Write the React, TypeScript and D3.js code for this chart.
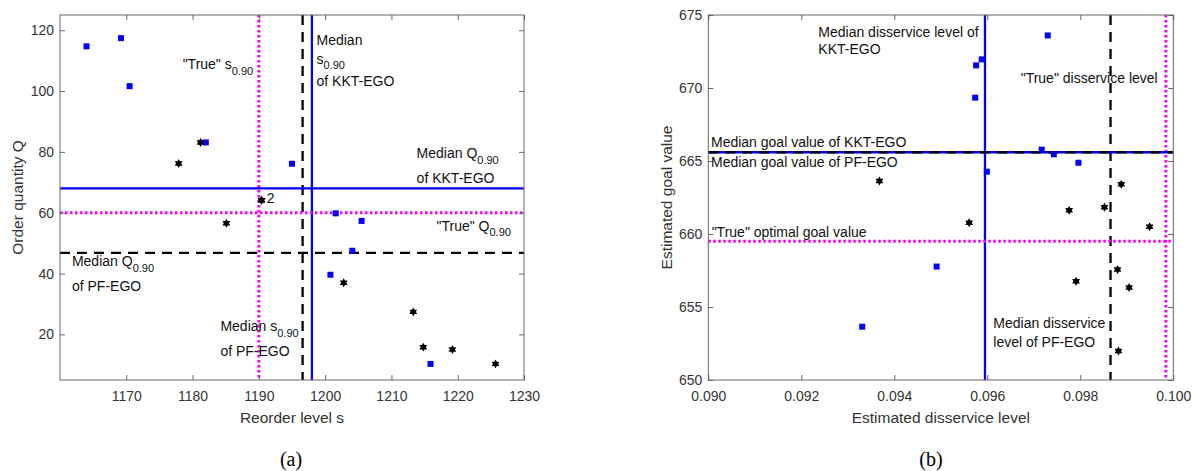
import React, { useEffect, useRef } from 'react';
import * as d3 from 'd3';

// (a) reorder level s vs order quantity Q, one point per replication
const KKT_S = [1164.0, 1169.2, 1170.5, 1182.0, 1195.0, 1201.6, 1205.5, 1204.1, 1200.8, 1215.9];
const KKT_Q = [114.7, 117.4, 101.6, 83.1, 76.1, 59.8, 57.3, 47.5, 39.6, 10.3];
const PF_S = [1177.9, 1181.2, 1190.4, 1190.4, 1185.1, 1202.8, 1213.3, 1214.8, 1219.2, 1225.7];
const PF_Q = [76.2, 83.1, 64.1, 64.1, 56.5, 37.0, 27.4, 15.8, 15.0, 10.3];
const S_TICKS = [1170, 1180, 1190, 1200, 1210, 1220, 1230];
const Q_TICKS = [20, 40, 60, 80, 100, 120];
const MEDIAN_S_KKT = 1198.0;
const MEDIAN_S_PF = 1196.6;
const TRUE_S = 1190;
const MEDIAN_Q_KKT = 68.0;
const MEDIAN_Q_PF = 46.8;
const TRUE_Q = 60;

// (b) estimated disservice level vs estimated goal value
const KKT_DIS = [0.0973, 0.09588, 0.09576, 0.09574, 0.09717, 0.09743, 0.09796, 0.09599, 0.09491, 0.09331];
const KKT_GOAL = [673.6, 671.96, 671.55, 669.34, 665.78, 665.46, 664.88, 664.27, 657.77, 653.65];
const PF_DIS = [0.09368, 0.09888, 0.09776, 0.09852, 0.09561, 0.09949, 0.0988, 0.09791, 0.09905, 0.09882];
const PF_GOAL = [663.63, 663.4, 661.62, 661.83, 660.77, 660.5, 657.57, 656.77, 656.34, 651.98];
const DIS_TICKS = [0.09, 0.092, 0.094, 0.096, 0.098, 0.1];
const GOAL_TICKS = [650, 655, 660, 665, 670, 675];
const MEDIAN_DIS_KKT = 0.09595;
const MEDIAN_DIS_PF = 0.09865;
const TRUE_DIS = 0.09984;
const MEDIAN_GOAL_KKT = 665.6;
const MEDIAN_GOAL_PF = 665.6;
const TRUE_GOAL = 659.5;

const FONT = 'Liberation Sans, Arial, Helvetica, sans-serif';

const LINE_STYLE = {
  kkt: { stroke: '#0000ff', width: 2.3, dash: null },
  pf: { stroke: '#000000', width: 2.3, dash: '10,7' },
  truth: { stroke: '#ff00ff', width: 3, dash: '2.5,2.5' }
};

// six pointed star, like matlab's 'h' marker
const hexagram = {
  draw (context, size) {
    const r = Math.sqrt(size / 2);
    const ri = r / Math.sqrt(3);
    for (let i = 0; i < 12; i++) {
      const a = i * Math.PI / 6 - Math.PI / 2;
      const rr = i % 2 ? ri : r;
      if (i === 0) context.moveTo(rr * Math.cos(a), rr * Math.sin(a));
      else context.lineTo(rr * Math.cos(a), rr * Math.sin(a));
    }
    context.closePath();
  }
};

const PANEL_A = {
  x0: 60, x1: 524, y0: 15, y1: 380,
  xDomain: [1160, 1230], yDomain: [5, 125],
  xTicks: S_TICKS, yTicks: Q_TICKS, xFormat: d3.format('d'),
  xLabel: 'Reorder level s', yLabel: 'Order quantity Q', yLabelX: 23,
  caption: '(a)', captionX: 291,
  kkt: [KKT_S, KKT_Q], pf: [PF_S, PF_Q],
  vLines: [
    { value: TRUE_S, kind: 'truth' },
    { value: MEDIAN_S_PF, kind: 'pf' },
    { value: MEDIAN_S_KKT, kind: 'kkt' }
  ],
  hLines: [
    { value: MEDIAN_Q_KKT, kind: 'kkt' },
    { value: TRUE_Q, kind: 'truth' },
    { value: MEDIAN_Q_PF, kind: 'pf' }
  ],
  labels: [
    { x: 1178.5, y: 107.2, text: '"True" s_{0.90}' },
    { x: 1198.7, y: 115.1, text: 'Median' },
    { x: 1198.7, y: 109.0, text: 's_{0.90}' },
    { x: 1198.7, y: 101.6, text: 'of KKT-EGO' },
    { x: 1213.8, y: 77.9, text: 'Median Q_{0.90}' },
    { x: 1213.8, y: 69.8, text: 'of KKT-EGO' },
    { x: 1216.8, y: 54.0, text: '"True" Q_{0.90}' },
    { x: 1161.8, y: 42.4, text: 'Median Q_{0.90}' },
    { x: 1161.8, y: 34.3, text: 'of PF-EGO' },
    { x: 1184.2, y: 21.1, text: 'Median s_{0.90}' },
    { x: 1184.2, y: 12.8, text: 'of PF-EGO' },
    { x: 1191.2, y: 63.1, text: '2' }
  ]
};

const PANEL_B = {
  x0: 708.3, x1: 1173.3, y0: 15, y1: 380,
  xDomain: [0.09, 0.1], yDomain: [650, 675],
  xTicks: DIS_TICKS, yTicks: GOAL_TICKS, xFormat: d3.format('.3f'),
  xLabel: 'Estimated disservice level', yLabel: 'Estimated goal value', yLabelX: 671.5,
  caption: '(b)', captionX: 931,
  kkt: [KKT_DIS, KKT_GOAL], pf: [PF_DIS, PF_GOAL],
  vLines: [
    { value: MEDIAN_DIS_KKT, kind: 'kkt' },
    { value: MEDIAN_DIS_PF, kind: 'pf' },
    { value: TRUE_DIS, kind: 'truth' }
  ],
  hLines: [
    { value: MEDIAN_GOAL_KKT, kind: 'kkt' },
    { value: MEDIAN_GOAL_PF, kind: 'pf' },
    { value: TRUE_GOAL, kind: 'truth' }
  ],
  labels: [
    { x: 0.092366, y: 673.51, text: 'Median disservice level of' },
    { x: 0.092366, y: 672.31, text: 'KKT-EGO' },
    { x: 0.096718, y: 670.36, text: '"True" disservice level' },
    { x: 0.090058, y: 665.94, text: 'Median goal value of KKT-EGO' },
    { x: 0.090058, y: 664.57, text: 'Median goal value of PF-EGO' },
    { x: 0.090072, y: 659.82, text: '"True" optimal goal value' },
    { x: 0.096129, y: 653.58, text: 'Median disservice' },
    { x: 0.096129, y: 652.28, text: 'level of PF-EGO' }
  ]
};

// text with simple _{sub} subscripts
function addLabel (g, px, py, str) {
  const t = g.append('text')
    .attr('x', px)
    .attr('y', py)
    .attr('font-size', 14)
    .attr('fill', '#111');
  let shifted = false;
  str.split(/(_\{[^}]*\})/).forEach(part => {
    if (!part) return;
    if (part.startsWith('_{')) {
      t.append('tspan').attr('dy', 5.5).attr('font-size', 11).text(part.slice(2, -1));
      shifted = true;
    } else {
      const s = t.append('tspan').text(part);
      if (shifted) { s.attr('dy', -5.5); shifted = false; }
    }
  });
}

function styleLine (sel, kind) {
  const st = LINE_STYLE[kind];
  sel.attr('stroke', st.stroke)
    .attr('stroke-width', st.width)
    .attr('stroke-dasharray', st.dash)
    .attr('fill', 'none');
}

function drawPanel (svg, p) {
  const x = d3.scaleLinear().domain(p.xDomain).range([p.x0, p.x1]);
  const y = d3.scaleLinear().domain(p.yDomain).range([p.y1, p.y0]);
  const g = svg.append('g').attr('font-family', FONT);

  // reference lines
  p.vLines.forEach(l => {
    g.append('line')
      .attr('x1', x(l.value)).attr('x2', x(l.value))
      .attr('y1', p.y0).attr('y2', p.y1)
      .call(styleLine, l.kind);
  });
  p.hLines.forEach(l => {
    g.append('line')
      .attr('x1', p.x0).attr('x2', p.x1)
      .attr('y1', y(l.value)).attr('y2', y(l.value))
      .call(styleLine, l.kind);
  });

  // KKT-EGO points: blue squares
  g.selectAll('rect.kkt')
    .data(d3.zip(p.kkt[0], p.kkt[1]))
    .join('rect')
    .attr('class', 'kkt')
    .attr('x', d => x(d[0]) - 3)
    .attr('y', d => y(d[1]) - 3)
    .attr('width', 6)
    .attr('height', 6)
    .attr('fill', '#0000ff');

  // PF-EGO points: black hexagrams
  g.selectAll('path.pf')
    .data(d3.zip(p.pf[0], p.pf[1]))
    .join('path')
    .attr('class', 'pf')
    .attr('d', d3.symbol(hexagram, 40))
    .attr('transform', d => `translate(${x(d[0])},${y(d[1])})`)
    .attr('fill', '#000');

  // axes, ticks pointing inward on all four sides
  const bottom = g.append('g')
    .attr('transform', `translate(0,${p.y1})`)
    .call(d3.axisBottom(x).tickValues(p.xTicks).tickFormat(p.xFormat).tickSize(-5).tickPadding(11));
  const left = g.append('g')
    .attr('transform', `translate(${p.x0},0)`)
    .call(d3.axisLeft(y).tickValues(p.yTicks).tickSize(-5).tickPadding(6));
  const top = g.append('g')
    .attr('transform', `translate(0,${p.y0})`)
    .call(d3.axisTop(x).tickValues(p.xTicks).tickFormat(() => '').tickSize(-5));
  const right = g.append('g')
    .attr('transform', `translate(${p.x1},0)`)
    .call(d3.axisRight(y).tickValues(p.yTicks).tickFormat(() => '').tickSize(-5));
  [bottom, left, top, right].forEach(a => {
    a.select('.domain').remove();
    a.selectAll('line').attr('stroke', '#666');
    a.selectAll('text')
      .attr('font-size', 14)
      .attr('font-family', FONT)
      .attr('fill', '#333');
  });

  g.append('rect')
    .attr('x', p.x0).attr('y', p.y0)
    .attr('width', p.x1 - p.x0).attr('height', p.y1 - p.y0)
    .attr('fill', 'none')
    .attr('stroke', '#666')
    .attr('stroke-width', 1);

  p.labels.forEach(l => addLabel(g, x(l.x), y(l.y), l.text));

  g.append('text')
    .attr('x', (p.x0 + p.x1) / 2)
    .attr('y', 423)
    .attr('text-anchor', 'middle')
    .attr('font-size', 15.5)
    .attr('fill', '#333')
    .text(p.xLabel);

  g.append('text')
    .attr('transform', `translate(${p.yLabelX},${(p.y0 + p.y1) / 2}) rotate(-90)`)
    .attr('text-anchor', 'middle')
    .attr('font-size', 15.5)
    .attr('fill', '#333')
    .text(p.yLabel);

  g.append('text')
    .attr('x', p.captionX)
    .attr('y', 466)
    .attr('text-anchor', 'middle')
    .attr('font-family', 'Liberation Serif, Times New Roman, serif')
    .attr('font-size', 20)
    .attr('fill', '#000')
    .text(p.caption);
}

export default function App () {
  const ref = useRef(null);

  useEffect(() => {
    const svg = d3.select(ref.current);
    svg.selectAll('*').remove();
    drawPanel(svg, PANEL_A);
    drawPanel(svg, PANEL_B);
  }, []);

  return (
    <svg
      ref={ref}
      width={1192}
      height={471}
      style={{ position: 'absolute', left: 0, top: 0, background: '#fff' }}
    />
  );
}
